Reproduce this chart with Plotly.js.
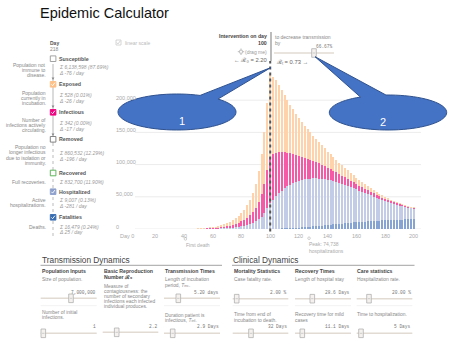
<!DOCTYPE html>
<html><head><meta charset="utf-8">
<script src="https://cdn.plot.ly/plotly-3.0.1.min.js"></script>
<style>html,body{margin:0;padding:0;background:#fff;} #chart{width:457px;height:360px;}</style>
</head><body><div id="chart"></div>
<script>
// ---------- data ----------
const days = [0,2,4,6,8,10,12,14,16,18,20,22,24,26,28,30,32,34,36,38,
  40,42,44,46,48,50,52,54,56,58,60,62,64,66,68,70,72,74,76,78,
  80,82,84,86,88,90,92,94,96,98,100,102,104,106,108,110,112,114,116,118,
  120,122,124,126,128,130,132,134,136,138,140,142,144,146,148,150,152,154,156,158,
  160,162,164,166,168,170,172,174,176,178,180,182,184,186,188,190,192,194,196,198,200];

const exposed = [1,1,2,2,3,4,5,6,8,10,13,16,21,27,34,45,58,74,95,122,
  154,196,249,318,398,504,636,795,1007,1272,
  1590,1961,2438,3074,3816,4770,5830,7155,8745,10865,
  13250,15900,19610,23850,29680,37100,47700,61480,79500,103350,
  128000,120000,112000,104000,96000,89000,82000,75500,69500,64000,
  59000,54000,49500,45500,42000,38500,35500,32500,30000,27500,
  25000,23000,21000,19200,17500,16000,14600,13300,12100,11000,
  10000,9100,8200,7400,6700,6000,5400,4800,4300,3800,
  3400,3000,2700,2400,2100,1900,1700,1500,1350,1200,1050];

const infectious = [0,1,1,1,1,2,3,4,5,6,7,9,12,15,20,26,33,42,54,69,
  87,112,142,181,226,286,362,452,573,724,
  905,1116,1389,1752,2175,2720,3325,4081,4990,6202,
  7565,9080,11203,13629,16968,21200,27270,35160,45480,59145,
  72000,71000,68000,64000,60000,56000,52000,48500,45000,42000,
  39000,36500,34000,31500,29500,27500,25500,23700,22000,20500,
  19000,17600,16300,15000,13800,12700,11700,10800,9900,9100,
  8300,7600,7000,6400,5800,5300,4800,4400,4000,3600,
  3300,3000,2700,2400,2100,1800,1600,1400,1200,1050,900];

const hospitalized = [0,0,0,1,1,1,1,2,2,3,4,5,7,8,11,14,19,24,31,39,
  48,61,78,99,124,157,198,248,314,396,
  495,611,759,957,1188,1485,1815,2228,2723,3383,
  4125,4950,6105,7425,9240,11550,14850,19140,24750,32175,
  39600,45000,50000,54500,58500,62000,65000,67500,69500,71000,
  72300,73300,74000,74500,74700,74600,74100,73300,72300,71200,
  70000,68600,67000,65300,63500,61600,59600,57500,55400,53200,
  51000,48800,46600,44400,42200,40000,37900,35800,33800,31800,
  29900,28100,26400,24800,23300,21900,20600,19400,18300,17200,16200];

const fatalities = [0,0,0,0,0,0,0,0,0,0,0,0,0,0,0,0,0,0,0,0,
  1,1,1,2,2,3,4,5,6,8,
  10,12,14,17,21,25,30,36,42,50,
  60,70,82,96,112,150,180,220,270,330,
  400,480,580,700,840,1000,1200,1420,1670,1950,
  2250,2580,2930,3300,3700,4100,4520,4950,5400,5850,
  6300,6750,7200,7650,8100,8530,8950,9360,9760,10150,
  10520,10880,11220,11550,11870,12170,12460,12740,13000,13250,
  13490,13720,13930,14130,14320,14500,14670,14830,14980,15120,15250];

const xTickVals = [0,20,40,60,80,100,120,140,160,180,200];
const xTickText = ["Day 0","20","40","60","80","100","120","140","160","180","200"];
const yTickVals = [0,50000,100000,150000,200000];
const yTickText = ["0","50,000","100,000","150,000","200,000"];
const interventionDay = 100;
const firstDeathDay = 41;
const peakDay = 127;

// ---------- layout helpers (pixel -> paper) ----------
const ML=115, MT=60, PW=307, PH=169;
const px = x => (x-ML)/PW;
const py = y => 1-(y-MT)/PH;
const FONT = "Liberation Sans, Arial, sans-serif";
const MONO = "Liberation Mono, DejaVu Sans Mono, monospace";
const annotations = [];
const shapes = [];
function T(text, x, y, o={}) {
  annotations.push({text, x: o.xref==='x'? x : px(x), y: py(y), xref: o.xref||'paper', yref:'paper',
    xanchor: o.anchor||'left', yanchor:'middle', showarrow:false, borderpad:0,
    font:{family:o.family||FONT, size:o.size||5, color:o.color||'#888', weight:o.bold?700:400, style:o.italic?'italic':'normal'}});
}
function line(x0,y0,x1,y1,color,width,dash){
  shapes.push({type:'line', xref:'paper', yref:'paper', x0:px(x0), y0:py(y0), x1:px(x1), y1:py(y1),
    line:{color, width, dash:dash||'solid'}});
}
function rect(x0,y0,x1,y1,fill,lc,lw){
  shapes.push({type:'rect', xref:'paper', yref:'paper', x0:px(x0), y0:py(y0), x1:px(x1), y1:py(y1),
    fillcolor:fill, line:{color:lc, width:lw}});
}
function check(cx,cy,color,w){
  shapes.push({type:'path', xref:'paper', yref:'paper', fillcolor:'rgba(0,0,0,0)',
    path:`M${px(cx-1.7)},${py(cy+0.1)} L${px(cx-0.5)},${py(cy+1.4)} L${px(cx+1.8)},${py(cy-1.6)}`,
    line:{color, width:w}});
}
function slider(x0,x1,y,tx){
  line(x0,y,x1,y,'#e2dbd3',1.6);
  rect(tx-2.3,y-4.3,tx+2.3,y+4.3,'#f4f1ee','#a9a9a9',0.7);
  line(tx-1.2,y,tx+1.2,y,'#b0b0b0',0.6);
}
function callout(cx,cy,rx,ry,a1,a2,tipx,tipy,label){
  let d='';
  const n=72;
  for(let i=0;i<=n;i++){
    const th=(a1+(360-(a1-a2))*i/n)*Math.PI/180;
    const x=cx+rx*Math.cos(th), y=cy+ry*Math.sin(th);
    d += (i===0?'M':'L')+px(x).toFixed(5)+','+py(y).toFixed(5)+' ';
  }
  d += 'L'+px(tipx).toFixed(5)+','+py(tipy).toFixed(5)+' Z';
  shapes.push({type:'path', xref:'paper', yref:'paper', path:d, fillcolor:'#4472C4', line:{color:'#2F528F', width:1}, layer:'above'});
  annotations.push({text:label, x:px(cx), y:py(cy+1), xref:'paper', yref:'paper', showarrow:false,
    font:{family:FONT, size:11, color:'#ffffff'}});
}
const SUB = t => `<span style="font-size:3.6px">${t}</span>`;

// gridlines + y tick labels (left-aligned inside, as in the reference)
yTickVals.forEach((v,i)=>{
  shapes.push({type:'line', xref:'paper', yref:'y', x0:px(135), x1:px(421), y0:v, y1:v, line:{color:'#ececec', width:1}, layer:'below'});
  annotations.push({text:yTickText[i], xref:'paper', yref:'y', x:px(115), y:v, yshift:2.5, xanchor:'left', yanchor:'middle',
    showarrow:false, borderpad:0, font:{family:FONT, size:5.5, color:'#aaa'}});
});
xTickVals.forEach((v,i)=>{
  annotations.push({text:xTickText[i], xref:'x', yref:'paper', x:v, y:py(236), xanchor:'center', yanchor:'middle',
    showarrow:false, borderpad:0, font:{family:FONT, size:5.5, color:'#aaa'}});
});

// title
T('Epidemic Calculator', 39, 13, {size:14.5, color:'#111'});

// sidebar
T('Day', 49.3, 42.7, {bold:true, color:'#555', size:5});
T('218', 49.3, 49, {color:'#888', size:5});
line(53,64,53,143,'#999',0.7);
line(53,143,53,236,'#aaa',0.8,'dot');
const rows = [
  {name:'Susceptible', y:58.7, fill:'#ffffff', lc:'#999', check:false,
   desc:[['Population not',65],['immune to',70],['disease.',75]],
   vals:[['Σ 6,138,598 (87.69%)',67.3],['Δ -76 / day',72.7]]},
  {name:'Exposed', y:84.3, fill:'#fdc086', lc:'#fdc086', check:true,
   desc:[['Population',92.7],['currently in',97.7],['incubation.',102.7]],
   vals:[['Σ 528 (0.01%)',95],['Δ -26 / day',100.7]]},
  {name:'Infectious', y:112.3, fill:'#f0027f', lc:'#f0027f', check:true,
   desc:[['Number of',120],['infections actively',125],['circulating.',130]],
   vals:[['Σ 342 (0.00%)',123.3],['Δ -17 / day',129]]},
  {name:'Removed', y:139.3, fill:'#ffffff', lc:'#777', check:false,
   desc:[['Population no',146.7],['longer infectious',152.3],['due to isolation or',157.7],['immunity.',162.7]],
   vals:[['Σ 860,532 (12.29%)',152.7],['Δ -196 / day',158.5]]},
  {name:'Recovered', y:173, fill:'#ffffff', lc:'#4daf4a', check:false,
   desc:[['Full recoveries.',181.7]],
   vals:[['Σ 832,700 (11.90%)',181.7]]},
  {name:'Hospitalized', y:191.7, fill:'#8da0cb', lc:'#8da0cb', check:true,
   desc:[['Active',200],['hospitalizations.',205]],
   vals:[['Σ 9,007 (0.13%)',200],['Δ -281 / day',205.7]]},
  {name:'Fatalities', y:217.3, fill:'#386cb0', lc:'#386cb0', check:true,
   desc:[['Deaths.',226.7]],
   vals:[['Σ 16,479 (0.24%)',226.7],['Δ 25 / day',232.3]]}
];
[[80],[108],[136]].forEach(([yy])=>{
  shapes.push({type:'path', xref:'paper', yref:'paper',
    path:`M${px(51.6)},${py(yy-2.5)} L${px(54.4)},${py(yy-2.5)} L${px(53)},${py(yy)} Z`, fillcolor:'#888', line:{width:0}});
});
rows.forEach(r=>{
  rect(50.3, r.y-2.8, 55.9, r.y+2.8, r.fill, r.lc, 0.9);
  if(r.check) check(53.1, r.y, '#ffffff', 0.9);
  T(r.name, 58, r.y, {bold:true, color:'#555', size:5.3});
  r.desc.forEach(([t,y])=>T(t, 46.7, y, {anchor:'right', color:'#888', size:5}));
  r.vals.forEach(([t,y])=>T(t, 58, y, {color:'#999', size:5, italic:true}));
});

// top controls
rect(116,40,121,45,'#fff','#ccc',0.8);
check(118.5,42.5,'#c8c8c8',0.8);
T('linear scale',124,42.7,{color:'#bbb',size:5});
T('Intervention on day',267.5,36,{anchor:'right',bold:true,color:'#444',size:5.2});
T('100',267.5,43.3,{anchor:'right',bold:true,color:'#444',size:5.2});
line(241,48.5,241,55,'#aaa',0.8); line(237.8,51.7,244.2,51.7,'#aaa',0.8);
rect(239.6,50.3,242.4,53.1,'#fff','#aaa',0.6);
T('(drag me)',267.5,51.7,{anchor:'right',color:'#999',size:5});
T('← ℛ₀ = 2.20',267.5,60,{anchor:'right',color:'#666',size:5.8});
line(271,32,271,61,'#999',1.3);
T('to decrease transmission',274,37.3,{color:'#888',size:5});
T('by',274,43.3,{color:'#888',size:5});
T('66.67%',333.5,46.7,{anchor:'right',color:'#777',size:4.5,family:MONO});
slider(274,334,53,314);
T('ℛₜ = 0.73 →',275,61.7,{color:'#666',size:5.8});

// day-100 dotted line
shapes.push({type:'line', xref:'x', yref:'paper', x0:interventionDay, x1:interventionDay, y0:py(231.5), y1:py(61),
  line:{color:'#555', width:2, dash:'dot'}});

// first death / peak markers
shapes.push({type:'circle', xref:'x', yref:'paper', x0:firstDeathDay-0.9, x1:firstDeathDay+0.9, y0:py(240.2), y1:py(237.6), line:{color:'#bbb',width:0.7}, fillcolor:'#fff'});
shapes.push({type:'circle', xref:'x', yref:'paper', x0:peakDay-0.9, x1:peakDay+0.9, y0:py(239.5), y1:py(236.9), line:{color:'#bbb',width:0.7}, fillcolor:'#fff'});
T('First death', firstDeathDay-0.5, 245, {xref:'x', color:'#aaa', size:5});
T('Peak: 74,738', peakDay-0.8, 244.3, {xref:'x', color:'#aaa', size:5});
T('hospitalizations', peakDay-0.8, 250.7, {xref:'x', color:'#aaa', size:5});

// bottom panels
T('Transmission Dynamics',40.5,260,{size:8.3,color:'#444'});
line(40.5,265.3,222,265.3,'#999',0.9);
T('Clinical Dynamics',232,260,{size:8.3,color:'#444'});
line(232,265.3,414.5,265.3,'#999',0.9);
const H = (t,x,y)=>T(t,x,y,{bold:true,color:'#444',size:5.2});
const D = (t,x,y)=>T(t,x,y,{color:'#888',size:4.9});
const V = (t,x,y)=>T(t,x,y,{anchor:'right',color:'#777',size:4.5,family:MONO});
H('Population Inputs',40.7,271); D('Size of population.',40.7,279.3);
V('7,000,000',96.7,292.7); slider(40.7,96.7,298.3,71); line(40.7,305.7,96.7,305.7,'#eee',0.8);
D('Number of initial',40.7,312.3); D('infections.',40.7,317.7);
V('1',96.7,326.7); slider(40.7,96.7,333.3,43.3);

H('Basic Reproduction',102.7,271); H('Number ℛ₀',102.7,276.7);
D('Measure of',102.7,286.7); D('contagiousness: the',102.7,291.7); D('number of secondary',102.7,296.7);
D('infections each infected',102.7,301.7); D('individual produces.',102.7,306.7);
V('2.2',158.3,326); slider(102.7,158.3,332.3,116.7);

H('Transmission Times',164,271); D('Length of incubation',164,279.3); D('period, <i>T</i>'+SUB('inc')+'.',164,285);
V('5.20 days',220,292.7); slider(164,220,298.3,178.3); line(164,305.7,220,305.7,'#eee',0.8);
D('Duration patient is',164,315); D('infectious, <i>T</i>'+SUB('inf')+'.',164,320.7);
V('2.9 Days',220,326.7); slider(164,220,333.3,172.7);

H('Mortality Statistics',232.7,271); D('Case fatality rate.',232.7,279.7);
V('2.00 %',288.3,292.7); slider(232.7,288.3,298.7,236.7); line(232.7,305.7,288.3,305.7,'#eee',0.8);
D('Time from end of',232.7,314.3); D('incubation to death.',232.7,320);
V('32 Days',288.3,326.7); slider(232.7,288.3,333.3,251);

H('Recovery Times',294.3,271); D('Length of hospital stay',294.3,279.7);
V('28.6 Days',351,292.7); slider(295,351,298.7,312.3); line(295,305.7,351,305.7,'#eee',0.8);
D('Recovery time for mild',294.3,314.3); D('cases',294.3,320);
V('11.1 Days',351,326.7); slider(295,351,333.3,302.3);

H('Care statistics',356,271); D('Hospitalization rate.',356,279.7);
V('20.00 %',412.3,292.7); slider(356.7,412.3,298.7,369); line(356.7,305.7,412.3,305.7,'#eee',0.8);
D('Time to hospitalization.',356,314.3);
V('5 Days',412.3,326.7); slider(356.7,412.3,333.3,361);

// callouts
callout(177,112,59,18,-46,-67,271,67.5,'1');
callout(388,112.5,58.7,17.5,-92,-118,315,56.7,'2');

const mk = (name, y, color) => ({type:'bar', name, x:days, y, marker:{color, line:{width:0}}, hoverinfo:'skip'});
const data = [
  mk('Fatalities', fatalities, '#86a3d2'),
  mk('Hospitalized', hospitalized, '#c3cce6'),
  mk('Infectious', infectious, '#f45aa6'),
  mk('Exposed', exposed, '#fed3ab')
];

const layout = {
  width:457, height:360,
  margin:{l:ML, r:457-ML-PW, t:MT, b:360-MT-PH},
  paper_bgcolor:'#fff', plot_bgcolor:'rgba(0,0,0,0)',
  barmode:'stack', bargap:0.3, showlegend:false,
  font:{family:FONT},
  xaxis:{range:[-8,205.6], showticklabels:false, showgrid:false, zeroline:false, showline:false, ticks:'', fixedrange:true},
  yaxis:{range:[0,262400], showticklabels:false, showgrid:false, zeroline:false, showline:false, ticks:'', fixedrange:true},
  shapes, annotations
};
Plotly.newPlot('chart', data, layout, {displayModeBar:false, staticPlot:true});
</script></body></html>
